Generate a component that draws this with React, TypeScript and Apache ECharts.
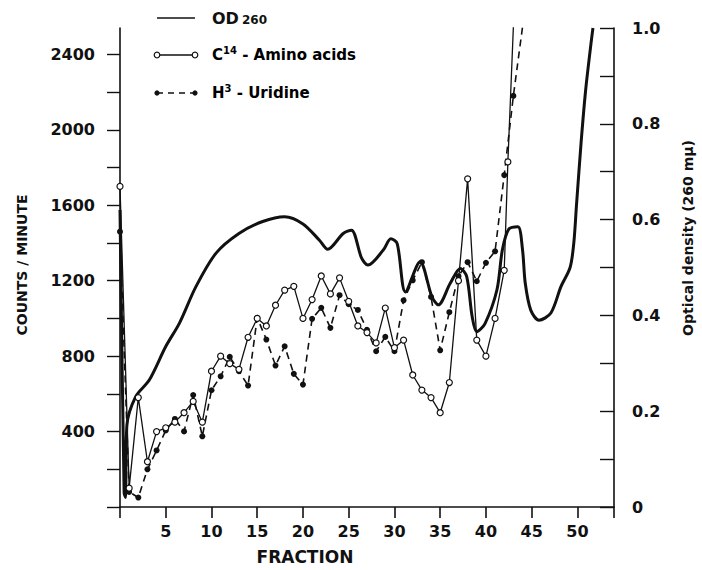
import React, { useEffect, useRef } from 'react';
import * as echarts from 'echarts';

// C14 amino acids (counts/minute) by fraction
const c14Fraction = [0, 1, 2, 3, 4, 5, 6, 7, 8, 9, 10, 11, 12, 13, 14, 15, 16, 17, 18, 19, 20, 21, 22, 23, 24, 25, 26, 27, 28, 29, 30, 31, 32, 33, 34, 35, 36, 37, 38, 39, 40, 41, 42, 42.4, 43];
const c14Counts = [1700, 100, 580, 240, 400, 420, 450, 500, 560, 450, 720, 800, 760, 730, 900, 1000, 960, 1070, 1150, 1170, 1000, 1100, 1225, 1130, 1215, 1090, 960, 925, 870, 1055, 845, 885, 700, 620, 580, 500, 660, 1200, 1740, 885, 800, 1000, 1255, 1830, 2545];

// H3 uridine (counts/minute) by fraction
const h3Fraction = [0, 1, 2, 3, 4, 5, 6, 7, 8, 9, 10, 11, 12, 13, 14, 15, 16, 17, 18, 19, 20, 21, 22, 23, 24, 25, 26, 27, 28, 29, 30, 31, 32, 33, 34, 35, 36, 37, 38, 39, 40, 41, 42, 43, 44];
const h3Counts = [1460, 80, 50, 200, 300, 406, 467, 401, 594, 375, 619, 693, 796, 720, 644, 1003, 888, 750, 852, 706, 649, 998, 1056, 950, 1123, 1075, 1045, 940, 826, 902, 826, 1096, 1202, 1298, 1114, 831, 1033, 1224, 1298, 1197, 1295, 1356, 1760, 2180, 2545];

// OD 260 (optical density) traced along fraction
const odFraction = [0, 0.45, 0.6, 0.75, 1.7, 3.2, 5, 6.5, 8.3, 10.5, 13, 15.6, 18, 20, 21.8, 22.7, 24.4, 25.3, 26.4, 27.1, 28.8, 29.6, 30.3, 31.2, 32.8, 34.1, 34.8, 36.1, 37.2, 37.9, 38.5, 39, 39.9, 41.2, 41.8, 42.5, 43.5, 44, 44.3, 44.9, 45.8, 47.1, 48.2, 49.2, 49.6, 49.9, 50.4, 50.9, 51.5, 51.7];
const odValues = [0.62, 0.03, 0.02, 0.17, 0.23, 0.265, 0.335, 0.384, 0.46, 0.53, 0.571, 0.596, 0.606, 0.591, 0.557, 0.538, 0.571, 0.578, 0.52, 0.505, 0.537, 0.56, 0.55, 0.449, 0.512, 0.439, 0.422, 0.467, 0.498, 0.481, 0.397, 0.366, 0.383, 0.453, 0.537, 0.58, 0.585, 0.537, 0.467, 0.411, 0.39, 0.405, 0.46, 0.5, 0.55, 0.63, 0.76, 0.87, 0.97, 1.0];

// Axis ticks and labels
const xTicks = [0, 5, 10, 15, 20, 25, 30, 35, 40, 45, 50, 54];
const xLabels = [5, 10, 15, 20, 25, 30, 35, 40, 45, 50];
const countTicks = [0, 200, 400, 600, 800, 1000, 1200, 1400, 1600, 1800, 2000, 2200, 2400];
const countLabels = [400, 800, 1200, 1600, 2000, 2400];
const odTicks = [0, 0.1, 0.2, 0.3, 0.4, 0.5, 0.6, 0.7, 0.8, 0.9, 1.0];
const odLabels = [0, 0.2, 0.4, 0.6, 0.8, 1.0];

const FONT = '"DejaVu Sans", sans-serif';

export default function App() {
  const ref = useRef<HTMLDivElement>(null);
  useEffect(() => {
    if (!ref.current) return;
    const chart = echarts.init(ref.current, undefined, { renderer: 'svg' });
    const zip = (a: number[], b: number[]) => a.map((v, i) => [v, b[i]]);
    const axisLabelStyle = { color: '#111', fontFamily: FONT, fontWeight: 'bold' as const, fontSize: 16 };
    const rich = {
      a: { fontFamily: FONT, fontWeight: 'bold', fontSize: 15, lineHeight: 20, color: '#111' },
      s: { fontFamily: FONT, fontWeight: 'bold', fontSize: 10, lineHeight: 12, verticalAlign: 'top', color: '#111' },
    };
    chart.setOption({
      animation: false,
      backgroundColor: '#fff',
      grid: { left: 120, right: 88, top: 28, bottom: 63 },
      xAxis: {
        type: 'value', min: 0, max: 54,
        axisLine: { lineStyle: { color: '#111', width: 1.6 } },
        axisTick: { customValues: xTicks, length: 11, lineStyle: { color: '#111', width: 1.6 } },
        axisLabel: { customValues: xLabels, margin: 16, ...axisLabelStyle },
        splitLine: { show: false },
      },
      yAxis: [
        {
          type: 'value', min: 0, max: 2540, position: 'left',
          axisLine: { show: true, lineStyle: { color: '#111', width: 1.6 } },
          axisTick: { show: true, customValues: countTicks, length: 13, lineStyle: { color: '#111', width: 1.4 } },
          axisLabel: { customValues: countLabels, margin: 25, ...axisLabelStyle, formatter: (v: number) => String(v) },
          splitLine: { show: false },
        },
        {
          type: 'value', min: 0, max: 1.0, position: 'right',
          axisLine: { show: true, lineStyle: { color: '#111', width: 1.6 } },
          axisTick: { show: true, inside: true, customValues: odTicks, length: 14, lineStyle: { color: '#111', width: 1.4 } },
          axisLabel: { customValues: odLabels, margin: 18, ...axisLabelStyle, formatter: (v: number) => (v === 0 ? '0' : v.toFixed(1)) },
          splitLine: { show: false },
        },
      ],
      series: [
        {
          name: 'OD260', type: 'line', yAxisIndex: 1, data: zip(odFraction, odValues),
          showSymbol: false, symbol: 'none', smooth: 0.3,
          lineStyle: { color: '#111', width: 3 }, z: 2,
        },
        {
          name: 'C14 - Amino acids', type: 'line', yAxisIndex: 0, data: zip(c14Fraction, c14Counts),
          symbol: 'circle', symbolSize: 6,
          itemStyle: { color: '#fff', borderColor: '#111', borderWidth: 1.2 },
          lineStyle: { color: '#111', width: 1.3 }, z: 4,
        },
        {
          name: 'H3 - Uridine', type: 'line', yAxisIndex: 0, data: zip(h3Fraction, h3Counts),
          symbol: 'circle', symbolSize: 6,
          itemStyle: { color: '#111' },
          lineStyle: { color: '#111', width: 1.6, type: [7, 5] }, z: 3,
        },
      ],
      graphic: [
        { type: 'text', x: 22, y: 265, rotation: Math.PI / 2, style: { text: 'COUNTS / MINUTE', font: `bold 14px ${FONT}`, fill: '#111', align: 'center', verticalAlign: 'middle' } },
        { type: 'text', x: 688, y: 238, rotation: Math.PI / 2, style: { text: 'Optical density (260 mμ)', font: `bold 14px ${FONT}`, fill: '#111', align: 'center', verticalAlign: 'middle' } },
        { type: 'text', x: 305, y: 557, style: { text: 'FRACTION', font: `bold 17px ${FONT}`, fill: '#111', align: 'center', verticalAlign: 'middle' } },
        // legend
        { type: 'line', shape: { x1: 157, y1: 18, x2: 195, y2: 18 }, style: { stroke: '#111', lineWidth: 1.5 } },
        { type: 'text', x: 212, y: 26, style: { text: 'OD', font: `bold 16px ${FONT}`, fill: '#111', verticalAlign: 'bottom' } },
        { type: 'text', x: 242, y: 26, style: { text: '260', font: `bold 12px ${FONT}`, fill: '#111', verticalAlign: 'bottom' } },
        { type: 'line', shape: { x1: 157, y1: 55, x2: 195, y2: 55 }, style: { stroke: '#111', lineWidth: 1.3 } },
        { type: 'circle', shape: { cx: 157, cy: 55, r: 2.8 }, style: { fill: '#fff', stroke: '#111', lineWidth: 1.2 } },
        { type: 'circle', shape: { cx: 195, cy: 55, r: 2.8 }, style: { fill: '#fff', stroke: '#111', lineWidth: 1.2 } },
        { type: 'text', x: 212, y: 55, style: { text: '{a|C}{s|14}{a| - Amino acids}', rich, verticalAlign: 'middle' } },
        { type: 'line', shape: { x1: 157, y1: 93, x2: 195, y2: 93 }, style: { stroke: '#111', lineWidth: 1.5, lineDash: [6, 5] } },
        { type: 'circle', shape: { cx: 157, cy: 93, r: 2.6 }, style: { fill: '#111' } },
        { type: 'circle', shape: { cx: 195, cy: 93, r: 2.6 }, style: { fill: '#111' } },
        { type: 'text', x: 212, y: 93, style: { text: '{a|H}{s|3}{a| - Uridine}', rich, verticalAlign: 'middle' } },
      ],
    });
    return () => chart.dispose();
  }, []);
  return <div ref={ref} style={{ width: 702, height: 570, position: 'absolute', left: 0, top: 0 }} />;
}
